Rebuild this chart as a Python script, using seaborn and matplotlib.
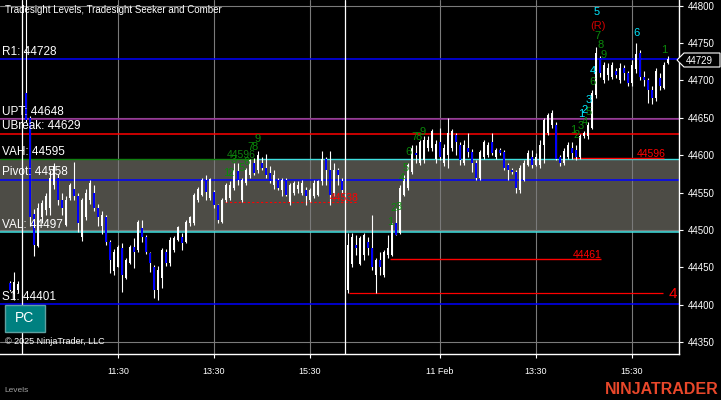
import numpy as np
import pandas as pd
import seaborn as sns
import matplotlib
matplotlib.use("Agg")
import matplotlib.pyplot as plt
from matplotlib.patches import Polygon, Rectangle

# ---------------- data ----------------
prev_open = [44429, 44415, 44420]
prev_high = [44432, 44444, 44432]
prev_low = [44418, 44406, 44416]
prev_close = [44420, 44430, 44428]

s1_open = [44683, 44650, 44522, 44478, 44517, 44527, 44530, 44560, 44570, 44540,
           44507, 44543, 44555, 44545, 44490, 44517, 44540, 44550, 44530, 44505,
           44517, 44484, 44445, 44451, 44476, 44436, 44456, 44477, 44473, 44503,
           44491, 44469, 44451, 44420, 44436, 44471, 44456, 44473, 44487, 44491,
           44484, 44509, 44509, 44540, 44547, 44567, 44543, 44551, 44533, 44511,
           44540, 44543, 44556, 44579, 44540, 44563, 44573, 44590, 44580, 44590,
           44583, 44576, 44560, 44567, 44553, 44567, 44537, 44550, 44555, 44550,
           44553, 44540, 44545, 44547, 44565, 44595, 44580, 44550, 44580, 44565]
s1_high = [44830, 44652, 44528, 44536, 44540, 44550, 44580, 44590, 44575, 44550,
           44545, 44563, 44591, 44550, 44543, 44555, 44567, 44560, 44535, 44525,
           44520, 44487, 44475, 44480, 44483, 44462, 44480, 44489, 44513, 44513,
           44493, 44471, 44453, 44452, 44476, 44474, 44490, 44492, 44506, 44496,
           44513, 44519, 44549, 44557, 44570, 44573, 44570, 44553, 44535, 44543,
           44563, 44566, 44590, 44590, 44570, 44583, 44595, 44596, 44605, 44598,
           44601, 44585, 44580, 44570, 44570, 44570, 44563, 44566, 44565, 44567,
           44557, 44556, 44567, 44567, 44605, 44598, 44605, 44590, 44583, 44570]
s1_low = [44645, 44505, 44465, 44477, 44510, 44520, 44520, 44555, 44533, 44520,
          44505, 44540, 44540, 44497, 44485, 44513, 44535, 44525, 44505, 44495,
          44480, 44443, 44440, 44450, 44417, 44434, 44454, 44449, 44470, 44484,
          44468, 44444, 44409, 44406, 44423, 44452, 44452, 44470, 44485, 44473,
          44482, 44505, 44507, 44538, 44545, 44540, 44540, 44530, 44510, 44509,
          44538, 44540, 44554, 44560, 44537, 44560, 44570, 44573, 44576, 44580,
          44570, 44563, 44555, 44553, 44545, 44545, 44533, 44547, 44550, 44547,
          44533, 44537, 44543, 44545, 44560, 44560, 44533, 44545, 44560, 44550]
s1_close = [44647, 44517, 44480, 44530, 44536, 44545, 44570, 44585, 44540, 44530,
            44540, 44560, 44545, 44510, 44540, 44550, 44563, 44530, 44517, 44520,
            44484, 44460, 44470, 44477, 44440, 44460, 44477, 44471, 44511, 44491,
            44471, 44456, 44420, 44447, 44473, 44456, 44487, 44489, 44504, 44483,
            44511, 44517, 44547, 44555, 44567, 44551, 44568, 44533, 44513, 44540,
            44560, 44560, 44580, 44567, 44567, 44580, 44593, 44576, 44600, 44583,
            44573, 44566, 44573, 44556, 44567, 44547, 44560, 44563, 44560, 44563,
            44545, 44553, 44563, 44565, 44595, 44580, 44547, 44580, 44573, 44553]

s2_open = [44420, 44455, 44480, 44455, 44467, 44484, 44476, 44440, 44460, 44440,
           44467, 44467, 44509, 44496, 44547, 44556, 44577, 44603, 44590, 44593,
           44610, 44610, 44595, 44617, 44590, 44600, 44610, 44627, 44614, 44590,
           44610, 44604, 44590, 44570, 44597, 44600, 44617, 44597, 44607, 44604,
           44587, 44580, 44577, 44553, 44567, 44587, 44597, 44587, 44587, 44613,
           44630, 44640, 44640, 44597, 44590, 44597, 44610, 44607, 44597, 44625,
           44625, 44637, 44680, 44730, 44700, 44707, 44705, 44713, 44700, 44717,
           44710, 44697, 44715, 44737, 44705, 44700, 44687, 44677, 44703, 44690,
           44723]
s2_high = [44496, 44496, 44493, 44492, 44496, 44490, 44520, 44463, 44470, 44473,
           44493, 44510, 44530, 44560, 44573, 44590, 44613, 44613, 44620, 44625,
           44625, 44635, 44620, 44637, 44615, 44650, 44635, 44630, 44617, 44620,
           44630, 44608, 44593, 44607, 44620, 44617, 44630, 44610, 44610, 44607,
           44590, 44583, 44580, 44587, 44593, 44607, 44607, 44603, 44620, 44650,
           44657, 44660, 44645, 44600, 44610, 44617, 44617, 44613, 44628, 44633,
           44645, 44687, 44744, 44733, 44725, 44723, 44725, 44717, 44723, 44720,
           44713, 44727, 44750, 44740, 44713, 44703, 44693, 44717, 44710, 44725,
           44733]
s2_low = [44416, 44450, 44467, 44453, 44460, 44467, 44447, 44416, 44440, 44437,
          44463, 44465, 44493, 44494, 44545, 44553, 44575, 44590, 44587, 44590,
          44605, 44605, 44590, 44593, 44585, 44583, 44605, 44600, 44587, 44587,
          44598, 44577, 44567, 44567, 44595, 44597, 44600, 44595, 44600, 44580,
          44567, 44575, 44550, 44550, 44565, 44585, 44583, 44585, 44583, 44590,
          44627, 44637, 44594, 44585, 44587, 44595, 44595, 44593, 44595, 44623,
          44622, 44635, 44677, 44705, 44697, 44700, 44702, 44703, 44697, 44700,
          44693, 44693, 44710, 44700, 44693, 44670, 44668, 44672, 44687, 44688,
          44722]
s2_close = [44480, 44490, 44476, 44489, 44493, 44476, 44451, 44460, 44450, 44470,
            44476, 44507, 44493, 44556, 44570, 44587, 44610, 44600, 44617, 44620,
            44620, 44633, 44615, 44597, 44610, 44630, 44633, 44617, 44594, 44613,
            44604, 44590, 44570, 44604, 44617, 44613, 44603, 44607, 44603, 44583,
            44580, 44577, 44556, 44583, 44590, 44603, 44587, 44597, 44613, 44647,
            44654, 44657, 44595, 44590, 44605, 44613, 44603, 44597, 44625, 44630,
            44640, 44683, 44737, 44710, 44720, 44717, 44720, 44707, 44717, 44710,
            44697, 44720, 44735, 44705, 44700, 44687, 44677, 44713, 44693, 44720,
            44729]

level_names = ["R1", "UPT", "UBreak", "VAH", "Pivot", "VAL", "S1"]
level_values = [44728, 44648, 44629, 44595, 44558, 44497, 44401]
level_lines = [44728, 44648, 44629, 44595, 44567, 44497, 44401]
level_colors = ["#0000ff", "#9b2f9b", "#ff0000", "#3fe0e0", "#0000ff", "#3fe0e0", "#0000ff"]

tick_labels = ["11:30", "13:30", "15:30", "11 Feb", "13:30", "15:30"]
tick_slots = [27, 51, 75, 107.5, 131.5, 155.5]
price_ticks = list(range(44350, 44801, 50))
last_price = 44729

# seeker / comber counts: text, slot, price
green_txt = ["1", "2", "3", "5", "6", "7", "8", "9",
             "1", "2", "3", "4", "5", "6", "7", "8", "9",
             "1", "2", "3", "4", "5", "6", "7", "8", "9", "1"]
green_slot = [54, 55.25, 56, 58, 59, 60, 61.25, 62,
              95, 96, 97.25, 98, 99, 99.75, 101, 102.25, 103.25,
              140.75, 141.75, 142.75, 143.75, 144.75, 145.75, 146.75, 147.75, 148.5, 163.5]
green_price = [44576, 44576, 44594, 44583, 44591, 44611, 44611, 44622,
               44511, 44529, 44531, 44570, 44583, 44604, 44624, 44624, 44631,
               44634, 44627, 44639, 44644, 44658, 44698, 44760, 44748, 44734, 44740]
cyan_txt = ["1", "2", "3", "4", "5", "6"]
cyan_slot = [142.75, 143.75, 144.75, 145.75, 146.75, 156.75]
cyan_price = [44655, 44660, 44674, 44712, 44791, 44764]

# ---------------- figure ----------------
sns.set_theme(style="dark")
plt.rcParams['font.family'] = ['Liberation Sans', 'DejaVu Sans']

W, H = 721, 400
fig = plt.figure(figsize=(W / 100, H / 100), dpi=100, facecolor='black')
ax = fig.add_axes([0, 46 / H, 679 / W, 354 / H])
ax.set_facecolor('black')
ax.grid(False)

def fx(px):
    return px / W

def fy(py):
    return 1 - py / H

# bar slots (pixel = 10 + 4*slot)
prev_slots = [0, 1, 2]
s1_slots = [4 + i for i in range(len(s1_open))]
s2_slots = [84.5 + i for i in range(len(s2_open))]

df = pd.DataFrame({
    'slot': prev_slots + s1_slots + s2_slots,
    'open': prev_open + s1_open + s2_open,
    'high': prev_high + s1_high + s2_high,
    'low': prev_low + s1_low + s2_low,
    'close': prev_close + s1_close + s2_close,
})
df['up'] = df['close'] >= df['open']

ax.set_xlim(-2.5, 167.25)
ax.set_ylim(44334.2, 44807.5)

# value area band
ax.axhspan(level_lines[5], level_lines[3], color='#4d4c46', zorder=0, lw=0)

# grid
for s in tick_slots:
    ax.axvline(s, color='#7a7a7a', lw=0.8, zorder=0.5)
for p in [44350, 44500, 44650, 44800]:
    ax.axhline(p, color='#7a7a7a', lw=0.8, zorder=0.5)

# session separators
for s in [3, 83.75]:
    ax.axvline(s, color='white', lw=0.9, zorder=1.5)

# level lines
for name, val, line, col in zip(level_names, level_values, level_lines, level_colors):
    if name == "VAH":
        ax.hlines(line, -2.5, 62, colors='#108010', lw=1.0, zorder=1)
        ax.hlines(line, 62, 167.25, colors=col, lw=1.0, zorder=1)
    else:
        ax.axhline(line, color=col, lw=1.1, zorder=1)
    ax.annotate(f"{name}: {val}", (-2.0, line), xytext=(0, 1.0), textcoords='offset points',
                ha='left', va='bottom', color='white', fontsize=8.5, zorder=4)

# red seeker levels
red = '#ff0000'
ax.hlines(44538, 53.75, 87, colors=red, linestyles=(0, (2, 2)), lw=0.8, zorder=1.2)
ax.text(83.5, 44543, "44538", color=red, fontsize=7.5, ha='center', va='center', zorder=4)
ax.hlines(44461, 95, 147.75, colors=red, lw=1.0, zorder=1.2)
ax.text(144.25, 44467, "44461", color=red, fontsize=7.5, ha='center', va='center', zorder=4)
ax.hlines(44596, 140.75, 163.5, colors=red, lw=1.0, zorder=1.2)
ax.text(160.25, 44602, "44596", color=red, fontsize=7.5, ha='center', va='center', zorder=4)
ax.hlines(44416, 84.75, 163.25, colors=red, lw=0.9, zorder=1.2)
ax.text(165.6, 44415, "4", color=red, fontsize=11, ha='center', va='center', zorder=4)
ax.text(57.75, 44600, "44596", color='#108010', fontsize=7.5, ha='center', va='center', zorder=4)

# candles
ax.vlines(df['slot'], df['low'], df['high'], colors='white', lw=0.8, zorder=2)
body_h = (df['close'] - df['open']).abs().clip(lower=1.4)
body_b = df[['open', 'close']].min(axis=1)
cols = np.where(df['up'], 'white', '#0000ff')
ax.bar(df['slot'], body_h, bottom=body_b, width=0.55, color=cols, lw=0, zorder=2.5)

# counts
for t, s, p in zip(green_txt, green_slot, green_price):
    ax.text(s, p, t, color='#0a8a0a', fontsize=8, ha='center', va='center', zorder=4, clip_on=False)
for t, s, p in zip(cyan_txt, cyan_slot, cyan_price):
    ax.text(s, p, t, color='#00e8ff', fontsize=8, ha='center', va='center', zorder=4, clip_on=False)
ax.text(147, 44773, "(R)", color='#d00000', fontsize=8, ha='center', va='center', zorder=4)

# axes styling
for side in ['top', 'left']:
    ax.spines[side].set_visible(False)
for side in ['right', 'bottom']:
    ax.spines[side].set_visible(True)
    ax.spines[side].set_color('white')
    ax.spines[side].set_linewidth(1.0)
ax.yaxis.tick_right()
ax.set_yticks(price_ticks)
ax.set_yticklabels([str(p) for p in price_ticks])
ax.tick_params(axis='y', colors='white', labelcolor='white', labelsize=7, length=3,
               width=0.8, pad=3, direction='out', right=True, left=False)
ax.set_xticks(tick_slots)
ax.set_xticklabels(tick_labels)
ax.tick_params(axis='x', colors='white', labelcolor='white', labelsize=6.5, length=3,
               width=0.8, pad=6, direction='out', bottom=True)

# current price marker
poly = Polygon([(fx(677), fy(60)), (fx(684), fy(53)), (fx(720), fy(53)),
                (fx(720), fy(67)), (fx(684), fy(67))], closed=True,
               facecolor='black', edgecolor='white', lw=0.8, transform=fig.transFigure,
               zorder=10)
fig.patches.append(poly)
fig.text(fx(686), fy(60.5), str(last_price), color='white', fontsize=7, va='center',
         ha='left', zorder=11)

# overlay texts
fig.text(fx(5), fy(10), "Tradesight Levels, Tradesight Seeker and Comber", color='white',
         fontsize=7, va='center', ha='left')
pc = Rectangle((fx(5), fy(332)), 40 / W, 27 / H, facecolor='#008080', edgecolor='#5fa0a0',
               lw=1, transform=fig.transFigure, zorder=10)
fig.patches.append(pc)
fig.text(fx(25), fy(318.5), "PC", color='white', fontsize=10, ha='center', va='center', zorder=11)
fig.text(fx(5), fy(342), "© 2025 NinjaTrader, LLC", color='white', fontsize=6.5,
         va='center', ha='left', zorder=11)
fig.text(fx(4), fy(391), "Levels", color='#a0a0a0', fontsize=6, va='center', ha='left')
fig.text(fx(719), fy(390), "NINJATRADER", color='#e8472a', fontsize=11.5, fontweight='bold',
         ha='right', va='center')

fig.savefig("out.png", dpi=100, facecolor='black')
